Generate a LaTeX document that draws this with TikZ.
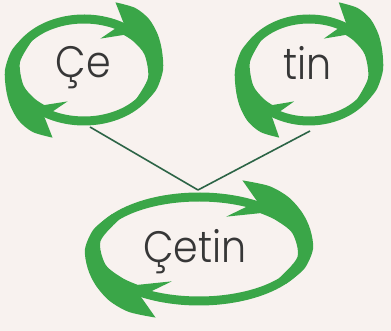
\documentclass[tikz,border=0pt]{standalone}
\usepackage{fontspec}
\setmainfont{Poppins Light}[FakeStretch=0.9]
\definecolor{bgcol}{RGB}{248,242,239}
\definecolor{swirlgreen}{RGB}{58,166,72}
\definecolor{conncol}{RGB}{44,100,70}
\definecolor{txtcol}{RGB}{55,55,55}
\tikzset{
  lbl/.style={anchor=base,inner sep=0pt,text=txtcol,font=\fontsize{44}{44}\selectfont},
  conn/.style={draw=conncol,line width=1.6pt},
  pics/halfswirl/.style 2 args={code={
    \fill[swirlgreen] plot[smooth,domain=55:155,samples=30,variable=\t] ({(#1+4.5)*cos(\t)},{(#2+4.5)*sin(\t)})
      -- plot[smooth,domain=155:55,samples=30,variable=\t] ({(#1-4.5)*cos(\t)},{(#2-4.5)*sin(\t)}) -- cycle;
    \fill[swirlgreen] plot[smooth] coordinates {(70:{#1+21} and {#2+21}) (57:{#1+23} and {#2+23}) (45:{#1+21} and {#2+21}) (32:{#1+16} and {#2+16}) (18:{#1+11} and {#2+11}) (0:{#1+8} and {#2+8}) (-20:{#1+6} and {#2+6}) (-38:{#1+4.5} and {#2+4.5})}
      -- plot[smooth] coordinates {(-38:{#1-4.5} and {#2-4.5}) (-10:{#1-6} and {#2-6}) (20:{#1-6.5} and {#2-6.5}) (40:{#1-6.5} and {#2-6.5}) (52:{#1-6.5} and {#2-6.5})}
      -- (72:{#1-18} and {#2-18}) -- (62:{#1-4} and {#2-4}) -- (58:{#1+4} and {#2+4}) -- cycle;
  }},
  pics/swirl/.style 2 args={code={
    \pic {halfswirl={#1}{#2}};
    \pic[rotate=180] {halfswirl={#1}{#2}};
  }}
}
\begin{document}
\begin{tikzpicture}[x=1pt,y=1pt]
\fill[bgcol] (0,0) rectangle (391,331);
\useasboundingbox (0,0) rectangle (391,331);
\pic at (84,261) {swirl={71}{51}};
\pic at (309,261) {swirl={66}{51}};
\pic at (199,82) {swirl={106}{52}};
\node[lbl] (ce) at (83.5,253) {Çe};
\node[lbl] (tin) at (307.5,251) {tin};
\node[lbl] (cetin) at (195,68) {Çetin};
\coordinate (cebot) at (90,204);
\coordinate (tinbot) at (310,200);
\coordinate (join) at (198,141);
\draw[conn] (cebot) -- (join);
\draw[conn] (tinbot) -- (join);
\end{tikzpicture}
\end{document}
